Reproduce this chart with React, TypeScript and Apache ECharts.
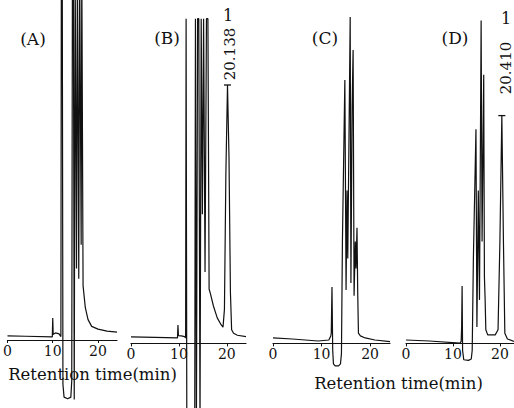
import React, { useEffect, useRef } from "react";
import * as echarts from "echarts";

// Retention time (min) vs detector signal (arbitrary units)
const traceA: [number, number][] = [
  [0, 1.2], [4, 1.1], [9.9, 0.9], [10.0, 6.5], [10.1, 1.6], [10.6, 2.1], [11.4, 1.8], [11.8, 1.0],
  [11.9, 110], [12.1, 110], [12.25, -13], [12.5, -16.8], [13.3, -17.3], [14.0, -16.8], [14.2, -12],
  [14.35, 110], [14.55, 110], [14.75, -17.5], [14.95, 110], [15.1, 110], [15.25, 21], [15.45, 110],
  [15.6, 110], [15.75, 18], [15.95, 110], [16.1, 110], [16.28, 28], [16.42, 110], [16.55, 110],
  [16.7, 16], [17.2, 9.5], [17.8, 6], [18.6, 4.0], [20, 3.2], [22, 2.6], [24.2, 2.3],
];
const traceB: [number, number][] = [
  [0, 1.9], [5, 1.8], [9.7, 1.6], [9.8, 5.4], [9.9, 2.3], [10.5, 2.2], [11.2, 2.0], [11.4, 1.6],
  [11.5, 95.5], [11.65, -25], [13.3, -25], [13.45, 95.5], [13.65, -25], [13.9, 95.5], [14.15, 95.5],
  [14.4, -25], [14.65, 95.5], [14.9, 38], [15.15, 95.5], [15.45, 21], [15.75, 95.5], [16.05, 95.5],
  [16.3, 16], [16.6, 14.5], [17.2, 11], [18.0, 7.5], [18.8, 5.5], [19.2, 4.8], [19.5, 10], [19.8, 50],
  [20.138, 76], [20.45, 55], [20.75, 15], [21.0, 4], [21.4, 3], [22.2, 2.4], [24, 2.0],
];
const traceC: [number, number][] = [
  [0, 1.6], [4, 1.3], [9.3, 0.7], [11.5, 1.0], [11.9, 2.2], [12.0, 3], [12.15, 16.6], [12.3, -2],
  [12.45, -6.0], [12.8, -6.6], [13.5, -6.6], [13.9, -6.0], [14.1, -3], [14.3, 30], [14.8, 77.5],
  [15.05, 15.7], [15.25, 45], [15.4, 25], [15.9, 96], [16.05, 17.8], [16.3, 70], [16.5, 86.3],
  [16.7, 14], [16.95, 30], [17.1, 22], [17.3, 34], [17.45, 15], [17.6, 3.0], [18.0, 2.2], [19, 1.6],
  [21, 1.0], [24.1, 0.5],
];
const traceD: [number, number][] = [
  [0, 1.0], [5, 0.7], [11.5, 0.1], [11.75, 0.6], [11.85, 5], [11.95, 16.9], [12.05, -2], [12.3, -4.8],
  [13.3, -5.0], [13.9, -4.6], [14.1, -2], [14.35, 25], [14.9, 63], [15.1, 4.8], [15.4, 45],
  [15.65, 12.8], [16.0, 95], [16.2, 30], [16.55, 79], [16.7, 19.6], [16.85, 13], [17.0, 4],
  [17.4, 2.5], [19.0, 2.5], [19.6, 4], [20.0, 30], [20.41, 67], [20.75, 30], [21.05, 3],
  [21.6, 1.3], [23, 0.6],
];
const panelNames = ["(A)", "(B)", "(C)", "(D)"];
const timeMax = [24.2, 24, 24.1, 23];
const tickLabels = ["0", "10", "20"];
const peakTimes: (number | null)[] = [null, 20.138, null, 20.41];
const peakHeights: (number | null)[] = [null, 76, null, 67];
const peakNumbers = ["1", "1"];
const axisTitle = "Retention time(min)";

// layout (pixels): grid top is the canvas top, grid bottom is the time axis
const layout = [
  { left: 7.5, width: 109.5, axisY: 340, yMax: 100, lx: 33, ly: 39 },
  { left: 131, width: 115, axisY: 343.4, yMax: 101, lx: 167, ly: 38 },
  { left: 273, width: 117, axisY: 343.4, yMax: 101, lx: 325, ly: 38 },
  { left: 406, width: 108, axisY: 343.4, yMax: 101, lx: 455, ly: 38 },
];
const traces = [traceA, traceB, traceC, traceD];
const FONT = '"DejaVu Serif", "Liberation Serif", serif';
const INK = "#111";

export default function App() {
  const ref = useRef<HTMLDivElement>(null);
  useEffect(() => {
    document.body.style.margin = "0";
    if (!ref.current) return;
    const chart = echarts.init(ref.current, null, { renderer: "svg" });
    const option: any = {
      animation: false,
      backgroundColor: "#fff",
      grid: layout.map((l) => ({
        left: l.left, width: l.width, top: 0, height: l.axisY, outerBoundsMode: "none",
      })),
      xAxis: layout.map((l, i) => ({
        gridIndex: i,
        type: "value",
        position: "bottom",
        min: 0,
        max: timeMax[i],
        interval: 10,
        axisLine: { show: true, onZero: false, lineStyle: { color: INK, width: 1.2 } },
        axisTick: { show: true, length: 3, lineStyle: { color: INK, width: 1 } },
        axisLabel: {
          color: INK, fontFamily: FONT, fontSize: 14, margin: 4, showMaxLabel: false,
          formatter: (v: number) => (tickLabels.includes(String(v)) ? String(v) : ""),
        },
        splitLine: { show: false },
      })),
      yAxis: layout.map((l, i) => ({
        gridIndex: i, type: "value", min: 0, max: l.yMax, show: false,
      })),
      series: traces.map((d, i) => ({
        type: "line",
        xAxisIndex: i,
        yAxisIndex: i,
        data: d,
        symbol: "none",
        showSymbol: false,
        clip: false,
        lineStyle: { color: INK, width: 1.2 },
        markPoint:
          peakTimes[i] != null
            ? {
                symbol: "rect",
                symbolSize: [7, 1.3],
                silent: true,
                itemStyle: { color: INK },
                label: { show: false },
                data: [{ coord: [peakTimes[i], peakHeights[i]] }],
              }
            : undefined,
      })),
      graphic: [
        ...layout.map((l, i) => ({
          type: "text", x: l.lx, y: l.ly,
          style: { text: panelNames[i], font: `17px ${FONT}`, fill: INK, align: "center", verticalAlign: "middle" },
        })),
        { type: "text", x: 229.5, y: 54, rotation: Math.PI / 2,
          style: { text: String(peakTimes[1]), font: `15px ${FONT}`, fill: INK, align: "center", verticalAlign: "middle" } },
        { type: "text", x: 228, y: 15,
          style: { text: peakNumbers[0], font: `16px ${FONT}`, fill: INK, align: "center", verticalAlign: "middle" } },
        { type: "text", x: 506, y: 68, rotation: Math.PI / 2,
          style: { text: (peakTimes[3] as number).toFixed(3), font: `15px ${FONT}`, fill: INK, align: "center", verticalAlign: "middle" } },
        { type: "text", x: 506, y: 18,
          style: { text: peakNumbers[1], font: `16px ${FONT}`, fill: INK, align: "center", verticalAlign: "middle" } },
        { type: "text", x: 92.5, y: 374,
          style: { text: axisTitle, font: `16.5px ${FONT}`, fill: INK, align: "center", verticalAlign: "middle" } },
        { type: "text", x: 398.5, y: 383,
          style: { text: axisTitle, font: `16.5px ${FONT}`, fill: INK, align: "center", verticalAlign: "middle" } },
      ],
    };
    chart.setOption(option);
    return () => chart.dispose();
  }, []);
  return <div ref={ref} style={{ width: 514, height: 408 }} />;
}
